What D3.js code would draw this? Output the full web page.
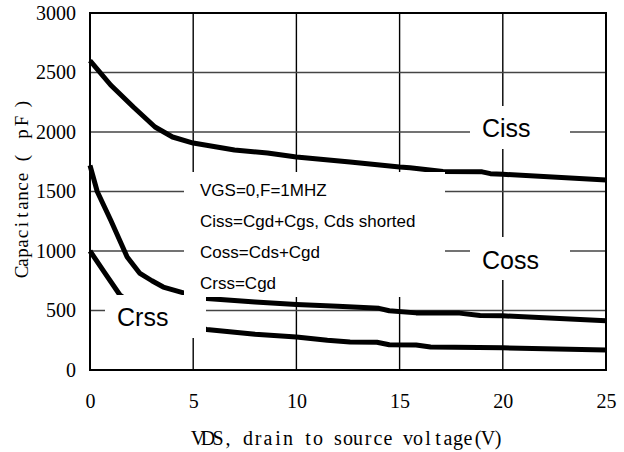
<!DOCTYPE html>
<html>
<head>
<meta charset="utf-8">
<script src="https://cdn.jsdelivr.net/npm/d3@7"></script>
<style>
  html, body { margin: 0; padding: 0; background: #fff; }
  svg { display: block; }
  .serif { font-family: 'Liberation Serif', 'DejaVu Serif', serif; }
  .sans { font-family: 'Liberation Sans', Arial, sans-serif; }
</style>
</head>
<body>
<svg id="chart" width="624" height="452"></svg>
<script>
// ---- data (VDS in V, capacitance in pF) ----
const cissV = [0, 1, 2.1, 3.15, 4, 5, 7, 8.6, 10, 12.6, 15, 15.5, 17.1, 19, 19.4, 20, 25];
const cissC = [2600, 2395, 2210, 2042, 1958, 1907, 1849, 1824, 1790, 1748, 1706, 1700, 1668, 1665, 1650, 1645, 1597];

const cossV = [0, 0.35, 1, 1.8, 2.4, 3, 3.55, 4.7, 5.65, 8, 10, 12, 14, 14.5, 15.8, 17.9, 18.9, 20, 25];
const cossC = [1720, 1500, 1260, 950, 815, 750, 697, 640, 600, 572, 550, 535, 518, 498, 480, 478, 458, 455, 414];

const crssV = [0, 0.7, 1.45, 2.5, 3.5, 4.5, 5.65, 8, 10, 11.5, 12.6, 13.9, 14.5, 15.8, 16.5, 20, 25];
const crssC = [1000, 820, 630, 500, 430, 385, 340, 300, 277, 250, 235, 233, 212, 210, 193, 186, 168];

const xTicks = [0, 5, 10, 15, 20, 25];
const yTicks = [0, 500, 1000, 1500, 2000, 2500, 3000];

const xTitle = "VDS, drain to source voltage(V)";
const yTitleMain = "Capacitance";
const yTitleUnit = "(pF)";
const noteLines = ["VGS=0,F=1MHZ", "Ciss=Cgd+Cgs, Cds shorted", "Coss=Cds+Cgd", "Crss=Cgd"];
const seriesNames = ["Ciss", "Coss", "Crss"];

// ---- layout ----
const L = 90, R = 606, T = 13, B = 370;
const svg = d3.select("#chart");
const x = d3.scaleLinear().domain([0, 25]).range([L, R]);
const y = d3.scaleLinear().domain([0, 3000]).range([B, T]);

// grid lines
const grid = svg.append("g").attr("class", "grid");
grid.selectAll("line.v").data(xTicks.slice(1, -1)).join("line").attr("class", "v")
  .attr("x1", d => x(d)).attr("x2", d => x(d))
  .attr("y1", T).attr("y2", B)
  .style("stroke", "#000").style("stroke-width", "1.4px");
grid.selectAll("line.h").data(yTicks.slice(1, -1)).join("line").attr("class", "h")
  .attr("y1", d => y(d)).attr("y2", d => y(d))
  .attr("x1", L).attr("x2", R)
  .style("stroke", "#444").style("stroke-width", "1.4px");

// x labels
const gx = svg.append("g").attr("transform", `translate(0,${B})`)
  .call(d3.axisBottom(x).tickValues(xTicks).tickFormat(d3.format("d"))
    .tickSize(0).tickPadding(24));
gx.attr("font-family", null).attr("font-size", null);
gx.select(".domain").remove();
gx.selectAll(".tick line").remove();
gx.selectAll(".tick text").attr("class", "serif").style("font-size", "20px").attr("fill", "#000");

// y labels
const gy = svg.append("g").attr("transform", `translate(${L},0)`)
  .call(d3.axisLeft(y).tickValues(yTicks).tickFormat(d3.format("d"))
    .tickSize(0).tickPadding(14));
gy.attr("font-family", null).attr("font-size", null);
gy.select(".domain").remove();
gy.selectAll(".tick line").remove();
gy.selectAll(".tick text").attr("class", "serif").style("font-size", "20px").attr("fill", "#000");

// frame
svg.append("rect").attr("x", L).attr("y", T).attr("width", R - L).attr("height", B - T)
  .attr("fill", "none").attr("stroke", "#000").attr("stroke-width", 2);

// curves
const line = d3.line().x(d => x(d[0])).y(d => y(d[1])).curve(d3.curveLinear);
[[cissV, cissC], [cossV, cossC], [crssV, crssC]].forEach(([vs, cs]) => {
  svg.append("path").datum(vs.map((v, i) => [v, cs[i]]))
    .attr("d", line).attr("fill", "none").attr("stroke", "#000")
    .attr("stroke-width", 5).attr("stroke-linejoin", "round");
});

// white masks behind labels
const masks = [
  [184, 172, 261, 125], // note box
  [105, 295, 101, 43],  // Crss
  [470, 106, 100, 43],  // Ciss
  [470, 237, 100, 43]   // Coss
];
masks.forEach(m => svg.append("rect").attr("x", m[0]).attr("y", m[1]).attr("width", m[2]).attr("height", m[3]).attr("fill", "#fff"));

// note text
noteLines.forEach((t, i) => {
  svg.append("text").attr("class", "sans").attr("x", 200).attr("y", 196 + i * 31)
    .style("font-size", "17px").attr("fill", "#000").text(t);
});

// series labels
const labelPos = [[482, 137], [482, 269], [117, 326]];
seriesNames.forEach((n, i) => {
  svg.append("text").attr("class", "sans").attr("x", labelPos[i][0]).attr("y", labelPos[i][1])
    .style("font-size", "25px").attr("fill", "#000").text(n);
});

// x title (monospaced pitch)
svg.append("text").attr("class", "serif")
  .attr("x", xTitle.split("").map((c, i) => 198 + i * 10).join(" "))
  .attr("y", 445).attr("text-anchor", "middle")
  .style("font-size", "20px").attr("fill", "#000")
  .text(xTitle);

// y title
const yt = svg.append("g").attr("transform", "translate(28,0) rotate(-90)");
yt.append("text").attr("class", "serif")
  .attr("x", yTitleMain.split("").map((c, i) => -272 + i * 9.5).join(" "))
  .attr("y", 0).attr("text-anchor", "middle")
  .style("font-size", "19px").attr("fill", "#000")
  .text(yTitleMain);
yt.append("text").attr("class", "serif")
  .attr("x", [-158, -134, -121, -104].join(" "))
  .attr("y", 0).attr("text-anchor", "middle")
  .style("font-size", "19px").attr("fill", "#000")
  .text(yTitleUnit);
</script>
</body>
</html>
